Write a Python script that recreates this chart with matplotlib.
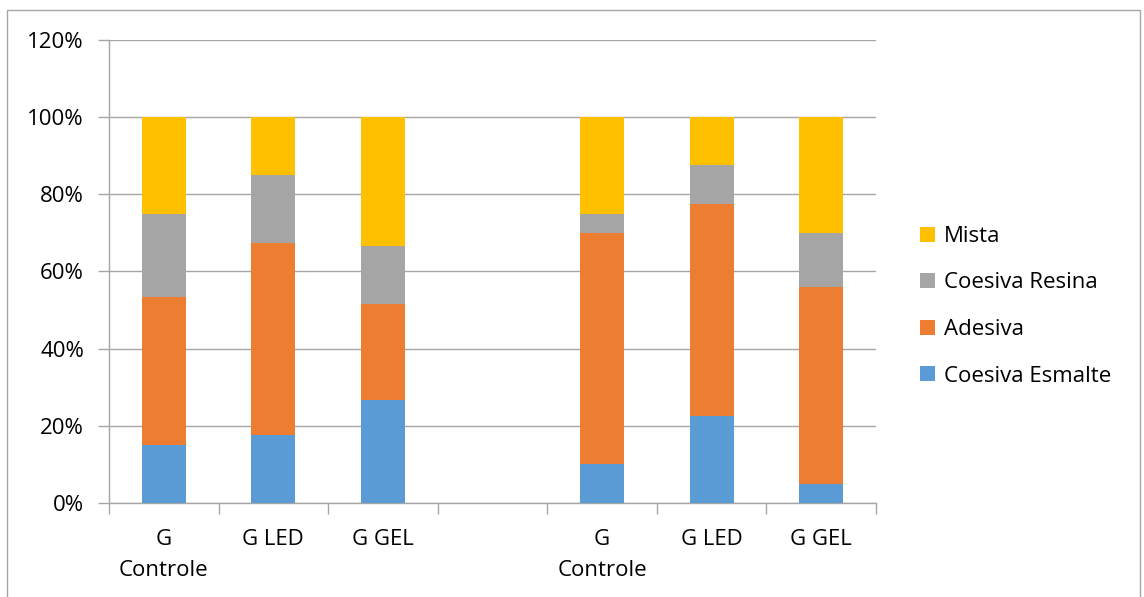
import matplotlib.pyplot as plt
from matplotlib.patches import Rectangle
from matplotlib.ticker import FixedLocator, PercentFormatter

categories = ['G\nControle', 'G LED', 'G GEL', '', 'G\nControle', 'G LED', 'G GEL']
esmalte = [15.0, 17.5, 26.7, 0, 10.0, 22.5, 5.0]
adesiva = [38.3, 50.0, 25.0, 0, 60.0, 55.0, 51.0]
resina = [21.7, 17.5, 15.0, 0, 5.0, 10.0, 14.0]
mista = [25.0, 15.0, 33.3, 0, 25.0, 12.5, 30.0]

series = [('Coesiva Esmalte', esmalte, '#5b9bd5'),
          ('Adesiva', adesiva, '#ed7d31'),
          ('Coesiva Resina', resina, '#a5a5a5'),
          ('Mista', mista, '#ffc000')]

plt.rcParams['font.family'] = ['Open Sans', 'DejaVu Sans']
plt.rcParams['font.size'] = 16

fig = plt.figure(figsize=(11.44, 5.97), dpi=100)
ax = fig.add_axes([0.0953, 0.1575, 0.6704, 0.7755])

x = list(range(len(categories)))
bottom = [0.0] * len(categories)
for name, vals, color in series:
    ax.bar(x, vals, width=0.4, bottom=bottom, color=color, label=name, zorder=3)
    bottom = [b + v for b, v in zip(bottom, vals)]

ax.set_xlim(-0.5, len(categories) - 0.5)
ax.set_ylim(0, 120)
ax.set_yticks(range(0, 121, 20))
ax.yaxis.set_major_formatter(PercentFormatter(decimals=0))
ax.grid(axis='y', color='#a6a6a6', linewidth=1, zorder=0)

ax.set_xticks(x)
ax.set_xticklabels(categories, linespacing=1.6)
ax.tick_params(axis='x', length=0, pad=19)
ax.xaxis.set_minor_locator(FixedLocator([i - 0.5 for i in range(len(categories) + 1)]))
ax.tick_params(axis='x', which='minor', length=8, color='#a6a6a6', width=1)
ax.tick_params(axis='y', length=8, color='#a6a6a6', width=1, pad=10)

for s in ['top', 'right']:
    ax.spines[s].set_visible(False)
for s in ['left', 'bottom']:
    ax.spines[s].set_color('#a6a6a6')
    ax.spines[s].set_linewidth(1)

h, l = ax.get_legend_handles_labels()
fig.legend(h[::-1], l[::-1], loc='center left', bbox_to_anchor=(0.787, 0.487),
           frameon=False, handlelength=0.65, handleheight=0.65, handletextpad=0.4,
           labelspacing=1.15, fontsize=16)

fig.patches.append(Rectangle((7 / 1144, -0.05), 1133 / 1144, 1.05 - 10 / 597,
                             transform=fig.transFigure, fill=False,
                             edgecolor='#a6a6a6', linewidth=1))

fig.savefig('out.png')
